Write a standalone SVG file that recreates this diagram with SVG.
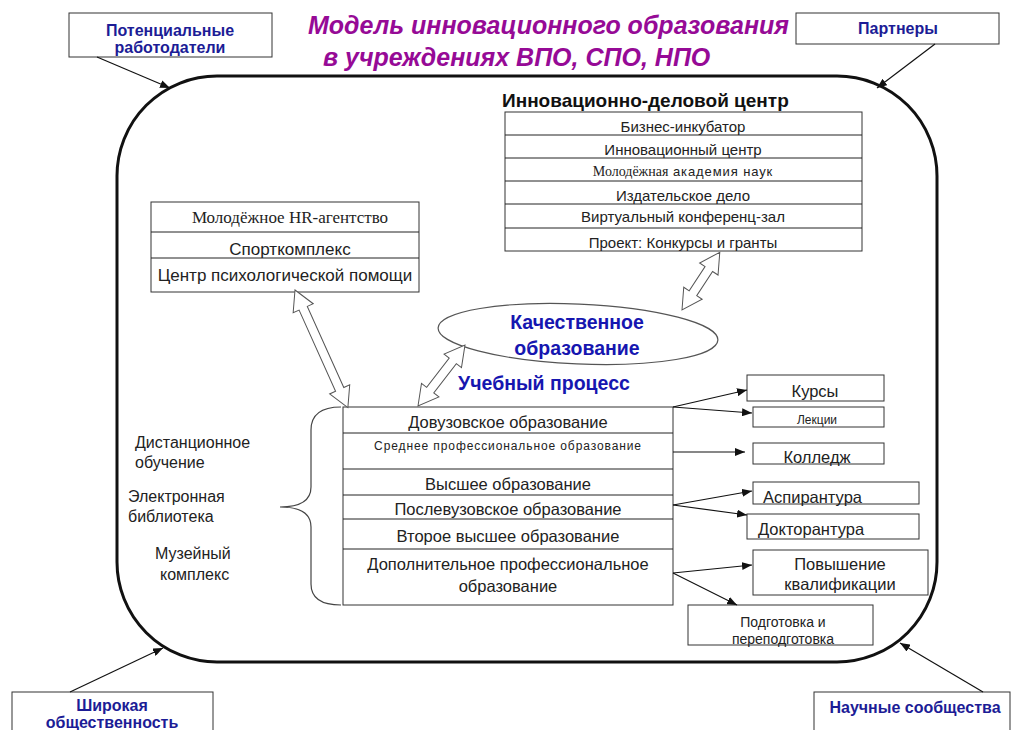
<svg xmlns="http://www.w3.org/2000/svg" width="1012" height="730" viewBox="0 0 1012 730">
<defs>
<style>
.box{fill:#fff;stroke:#333;stroke-width:1}
.tl{stroke:#222;stroke-width:1}
.t{font-family:"Liberation Sans",Arial,sans-serif;fill:#222}
.c{text-anchor:middle}
.lbl{font-family:"Liberation Sans",Arial,sans-serif;font-weight:bold;font-size:16px;fill:#1c1c96;text-anchor:middle}
.blue{font-family:"Liberation Sans",Arial,sans-serif;font-weight:bold;font-size:19.5px;fill:#1616b0;text-anchor:middle}
.con{stroke:#111;stroke-width:1.2;fill:none}
.dbl{fill:#fff;stroke:#555;stroke-width:1}
.ttl{font-family:"Liberation Sans",Arial,sans-serif;font-weight:bold;font-style:italic;font-size:25px;fill:#960a96}
</style>
<marker id="ah" viewBox="0 0 10 8" refX="10" refY="4" markerWidth="10" markerHeight="8" markerUnits="userSpaceOnUse" orient="auto">
<path d="M0,0 L10,4 L0,8 z" fill="#111"/>
</marker>
</defs>
<rect width="1012" height="730" fill="#fff"/>

<g id="frame">
<rect x="117" y="76" width="820" height="586" rx="100" ry="100" fill="none" stroke="#111" stroke-width="3"/>
</g>

<g id="title">
<text class="ttl" x="308" y="34">Модель инновационного образования</text>
<text class="ttl" x="323" y="66">в учреждениях ВПО, СПО, НПО</text>
</g>

<g id="employers">
<rect class="box" x="69" y="13" width="203" height="44"/>
<text class="lbl" x="170" y="36">Потенциальные</text>
<text class="lbl" x="170" y="53">работодатели</text>
</g>
<g id="partners">
<rect class="box" x="796" y="13" width="203" height="31"/>
<text class="lbl" x="898" y="34">Партнеры</text>
</g>
<g id="public">
<rect class="box" x="12" y="692" width="201" height="50"/>
<text class="lbl" x="112" y="711">Широкая</text>
<text class="lbl" x="112" y="728">общественность</text>
</g>
<g id="science">
<rect class="box" x="814" y="692" width="196" height="50"/>
<text class="lbl" x="915" y="713">Научные сообщества</text>
</g>

<g id="innovation-center">
<text x="502" y="107" font-family="Liberation Sans,Arial,sans-serif" font-weight="bold" font-size="19" fill="#111">Инновационно-деловой центр</text>
<rect class="box" x="505" y="112" width="357" height="139"/>
<line class="tl" x1="505" y1="135" x2="862" y2="135"/>
<line class="tl" x1="505" y1="158" x2="862" y2="158"/>
<line class="tl" x1="505" y1="181" x2="862" y2="181"/>
<line class="tl" x1="505" y1="204" x2="862" y2="204"/>
<line class="tl" x1="505" y1="228" x2="862" y2="228"/>
<text class="t c" x="683" y="132" font-size="15">Бизнес-инкубатор</text>
<text class="t c" x="683" y="155" font-size="15">Инновационный центр</text>
<text class="t c" x="683" y="176" font-size="13"><tspan style="font-family:'Liberation Serif',serif" font-size="14">Молодёжная</tspan><tspan letter-spacing="0.9"> академия наук</tspan></text>
<text class="t c" x="683" y="201" font-size="15">Издательское дело</text>
<text class="t c" x="683" y="222" font-size="15">Виртуальный конференц-зал</text>
<text class="t c" x="683" y="248" font-size="15">Проект: Конкурсы и гранты</text>
</g>

<g id="services">
<rect class="box" x="151" y="202" width="268" height="90"/>
<line class="tl" x1="151" y1="232" x2="419" y2="232"/>
<line class="tl" x1="151" y1="258" x2="419" y2="258"/>
<text class="t c" x="290" y="223" font-size="17" style="font-family:'Liberation Serif',serif">Молодёжное HR-агентство</text>
<text class="t c" x="290" y="255" font-size="17">Спорткомплекс</text>
<text class="t c" x="285" y="281" font-size="17">Центр психологической помощи</text>
</g>

<g id="quality">
<ellipse cx="578" cy="334" rx="140" ry="30" fill="#fff" stroke="#555" stroke-width="1.2" transform="rotate(2.5 578 334)"/>
<text class="blue" x="577" y="329">Качественное</text>
<text class="blue" x="577" y="355">образование</text>
</g>

<g id="process-label">
<text class="blue" x="544" y="390" font-size="19">Учебный процесс</text>
</g>

<g id="education">
<rect class="box" x="343" y="407" width="330" height="198"/>
<line class="tl" x1="343" y1="433" x2="673" y2="433"/>
<line class="tl" x1="343" y1="469" x2="673" y2="469"/>
<line class="tl" x1="343" y1="495" x2="673" y2="495"/>
<line class="tl" x1="343" y1="519" x2="673" y2="519"/>
<line class="tl" x1="343" y1="549" x2="673" y2="549"/>
<text class="t c" x="508" y="428" font-size="16.5">Довузовское образование</text>
<text class="t c" x="508" y="450" font-size="12" letter-spacing="0.9">Среднее профессиональное образование</text>
<text class="t c" x="508" y="490" font-size="16.5">Высшее образование</text>
<text class="t c" x="508" y="515" font-size="16.5">Послевузовское образование</text>
<text class="t c" x="508" y="542" font-size="16.5">Второе высшее образование</text>
<text class="t c" x="508" y="570" font-size="16.5">Дополнительное профессиональное</text>
<text class="t c" x="508" y="592" font-size="16.5">образование</text>
</g>

<g id="brace">
<path d="M341,407 Q311,407 311,430 L311,487 Q311,507 280,507 Q311,507 311,527 L311,584 Q311,605 341,605" fill="none" stroke="#444" stroke-width="1.2"/>
</g>

<g id="left-items">
<text class="t" x="135" y="448" font-size="16">Дистанционное</text>
<text class="t" x="135" y="468" font-size="16">обучение</text>
<text class="t" x="128" y="502" font-size="16">Электронная</text>
<text class="t" x="128" y="522" font-size="16">библиотека</text>
<text class="t" x="155" y="559" font-size="16">Музейный</text>
<text class="t" x="160" y="580" font-size="16">комплекс</text>
</g>

<g id="kursy"><rect class="box" x="747" y="375" width="137" height="26"/><text class="t c" x="815" y="397" font-size="16.5">Курсы</text></g>
<g id="lekcii"><rect class="box" x="753" y="407" width="131" height="20"/><text class="t c" x="817" y="424" font-size="12">Лекции</text></g>
<g id="kolledzh"><rect class="box" x="753" y="443" width="131" height="21"/><text class="t c" x="817" y="463" font-size="16.5">Колледж</text></g>
<g id="aspirantura"><rect class="box" x="753" y="482" width="166" height="22"/><text class="t" x="763" y="503" font-size="16.5">Аспирантура</text></g>
<g id="doktorantura"><rect class="box" x="747" y="514" width="172" height="25"/><text class="t" x="758" y="535" font-size="16.5">Докторантура</text></g>
<g id="povyshenie"><rect class="box" x="753" y="550" width="175" height="45"/><text class="t c" x="840" y="570" font-size="16.5">Повышение</text><text class="t c" x="840" y="590" font-size="16.5">квалификации</text></g>
<g id="podgotovka"><rect class="box" x="688" y="605" width="185" height="40"/><text class="t c" x="783" y="627" font-size="14">Подготовка и</text><text class="t c" x="783" y="644" font-size="14">переподготовка</text></g>

<g id="connectors">
<line class="con" x1="97" y1="57" x2="170" y2="88" marker-end="url(#ah)"/>
<line class="con" x1="935" y1="44" x2="877" y2="88" marker-end="url(#ah)" stroke-width="1.6"/>
<line class="con" x1="70" y1="692" x2="163" y2="648" marker-end="url(#ah)" stroke-width="1.6"/>
<line class="con" x1="983" y1="692" x2="900" y2="643" marker-end="url(#ah)" stroke-width="1.6"/>

<line class="con" x1="673" y1="407" x2="747" y2="390" marker-end="url(#ah)"/>
<line class="con" x1="673" y1="407" x2="752" y2="413" marker-end="url(#ah)"/>
<line class="con" x1="673" y1="452" x2="745" y2="452" marker-end="url(#ah)"/>
<line class="con" x1="673" y1="505" x2="752" y2="491" marker-end="url(#ah)"/>
<line class="con" x1="673" y1="505" x2="747" y2="515" marker-end="url(#ah)"/>
<line class="con" x1="673" y1="573" x2="752" y2="565" marker-end="url(#ah)"/>
<line class="con" x1="673" y1="573" x2="737" y2="605" marker-end="url(#ah)"/>

<path class="dbl" transform="translate(295,290) rotate(65.8)" d="M0,0 L20,-11 L20,-4.5 L109,-4.5 L109,-11 L129,0 L109,11 L109,4.5 L20,4.5 L20,11 Z"/>
<path class="dbl" transform="translate(418,406) rotate(-52.4)" d="M0,0 L20,-11 L20,-4.5 L57,-4.5 L57,-11 L77,0 L57,11 L57,4.5 L20,4.5 L20,11 Z"/>
<path class="dbl" transform="translate(682,310) rotate(-56.8)" d="M0,0 L20,-11 L20,-4.5 L49,-4.5 L49,-11 L69,0 L49,11 L49,4.5 L20,4.5 L20,11 Z"/>
</g>
</svg>
